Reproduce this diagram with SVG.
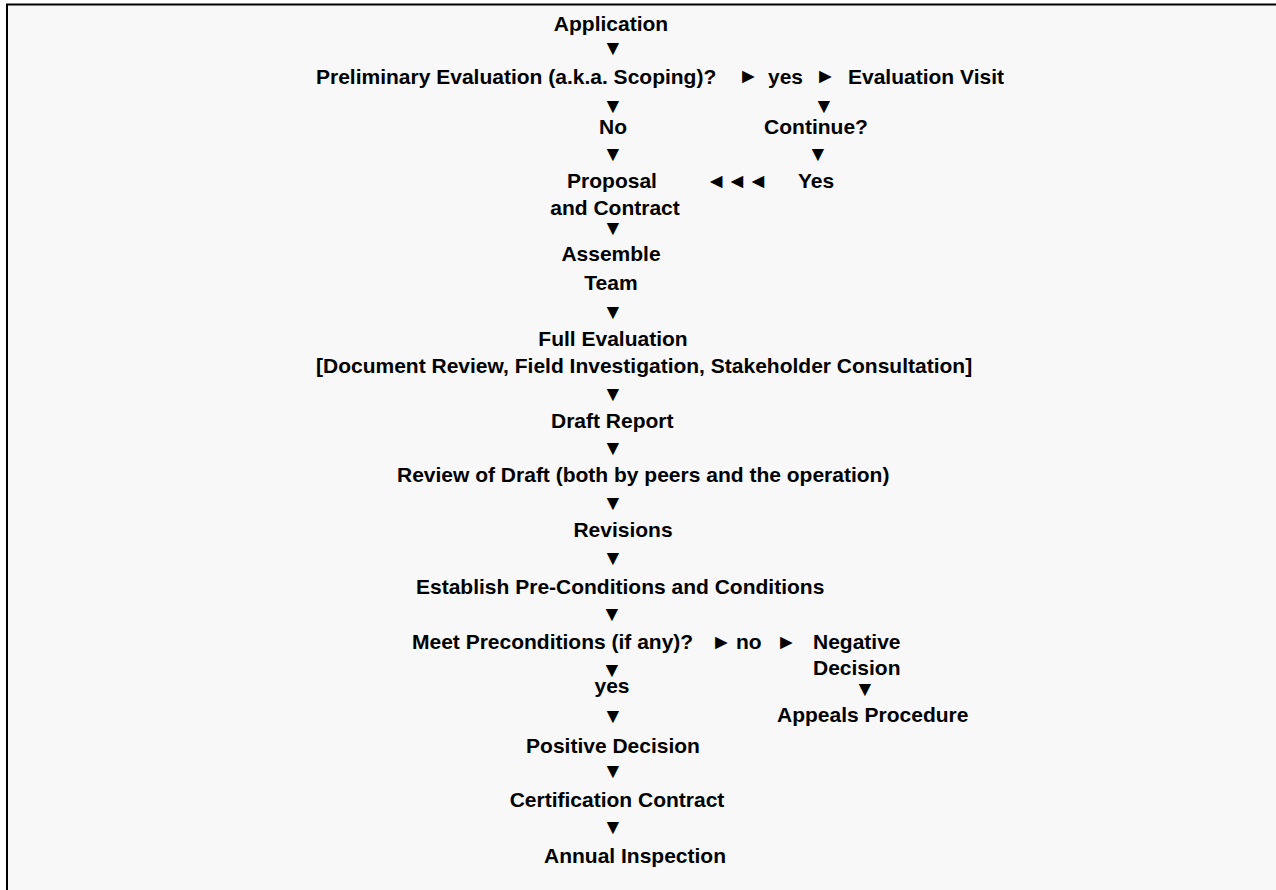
<svg xmlns="http://www.w3.org/2000/svg" width="1276" height="890" viewBox="0 0 1276 890">
<style>
text{font-family:"Liberation Sans",Arial,sans-serif;font-weight:bold;font-size:21px;fill:#000}
.m{text-anchor:middle}
</style>
<rect x="0" y="0" width="1276" height="890" fill="#ffffff"/>
<rect x="7" y="4" width="1269" height="886" fill="#f8f8f8"/>
<path d="M7,890 V4.5 H1276" fill="none" stroke="#000" stroke-width="2"/>
<g id="connectors">
<text class="m" x="613" y="55">▼</text>
<text x="738" y="83">►</text>
<text x="815" y="83">►</text>
<text class="m" x="613" y="113">▼</text>
<text class="m" x="824" y="113">▼</text>
<text class="m" x="613" y="161">▼</text>
<text class="m" x="818" y="161">▼</text>
<text class="m" x="737" y="188">◄◄◄</text>
<text class="m" x="613" y="235">▼</text>
<text class="m" x="613" y="319">▼</text>
<text class="m" x="613" y="401">▼</text>
<text class="m" x="613" y="455">▼</text>
<text class="m" x="613" y="510">▼</text>
<text class="m" x="613" y="565">▼</text>
<text class="m" x="612" y="621">▼</text>
<text x="711" y="649">►</text>
<text x="776" y="649">►</text>
<text class="m" x="612" y="677">▼</text>
<text class="m" x="865" y="696">▼</text>
<text class="m" x="613" y="723">▼</text>
<text class="m" x="613" y="778">▼</text>
<text class="m" x="613" y="834">▼</text>
</g>
<g id="application"><text class="m" x="611" y="31">Application</text></g>
<g id="preliminary"><text x="316" y="84">Preliminary Evaluation (a.k.a. Scoping)?</text></g>
<g id="yes1"><text x="768" y="84">yes</text></g>
<g id="evaluation-visit"><text x="848" y="84">Evaluation Visit</text></g>
<g id="no1"><text class="m" x="613" y="134">No</text></g>
<g id="continue"><text class="m" x="816" y="134">Continue?</text></g>
<g id="yes2"><text x="798" y="188">Yes</text></g>
<g id="proposal"><text class="m" x="612" y="188">Proposal</text><text class="m" x="615" y="215">and Contract</text></g>
<g id="assemble"><text class="m" x="611" y="261">Assemble</text><text class="m" x="611" y="290">Team</text></g>
<g id="full-evaluation"><text class="m" x="613" y="346">Full Evaluation</text><text x="316" y="373">[Document Review, Field Investigation, Stakeholder Consultation]</text></g>
<g id="draft-report"><text x="551" y="428">Draft Report</text></g>
<g id="review"><text x="397" y="482">Review of Draft (both by peers and the operation)</text></g>
<g id="revisions"><text class="m" x="623" y="537">Revisions</text></g>
<g id="establish"><text x="416" y="594">Establish Pre-Conditions and Conditions</text></g>
<g id="meet"><text x="412" y="649">Meet Preconditions (if any)?</text></g>
<g id="no2"><text x="736" y="649">no</text></g>
<g id="negative"><text x="813" y="649">Negative</text><text x="813" y="675">Decision</text></g>
<g id="yes3"><text class="m" x="612" y="693">yes</text></g>
<g id="appeals"><text x="777" y="722">Appeals Procedure</text></g>
<g id="positive"><text class="m" x="613" y="753">Positive Decision</text></g>
<g id="certification"><text class="m" x="617" y="807">Certification Contract</text></g>
<g id="annual"><text class="m" x="635" y="863">Annual Inspection</text></g>
</svg>
